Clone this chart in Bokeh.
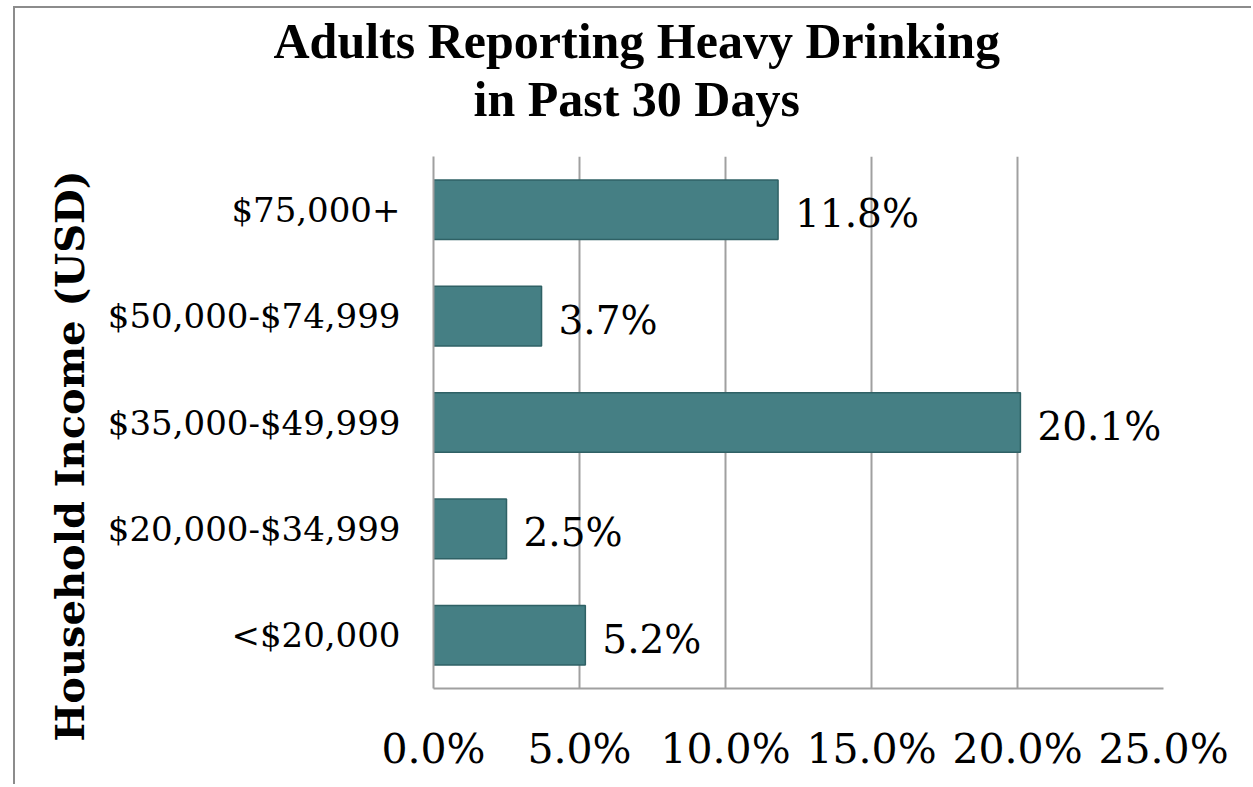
from bokeh.plotting import figure
from bokeh.models import (ColumnDataSource, FactorRange, Range1d, FixedTicker,
                          PrintfTickFormatter, Title)
from bokeh.core.properties import value
from bokeh.embed import file_html
from bokeh.resources import INLINE

# ---- data ----
categories = ["<$20,000", "$20,000-$34,999", "$35,000-$49,999",
              "$50,000-$74,999", "$75,000+"]
percent = [5.2, 2.5, 20.1, 3.7, 11.8]
value_labels = ["5.2%", "2.5%", "20.1%", "3.7%", "11.8%"]
x_ticks = [0, 5, 10, 15, 20, 25]
title_lines = ["Adults Reporting Heavy Drinking", "in Past 30 Days"]
y_title = "Household Income  (USD)"

SERIF = "DejaVu Serif"
BAR = "#457f84"
BAR_EDGE = "#2f6165"
GRID = "#a0a0a0"

src = ColumnDataSource(dict(cat=categories, pct=percent, lab=value_labels))

p = figure(width=1238, height=778, output_backend="svg", toolbar_location=None,
           y_range=FactorRange(*categories, range_padding=0),
           x_range=Range1d(0, 25),
           min_border_left=418, min_border_right=90,
           min_border_top=148, min_border_bottom=98)
p.title = None
p.outline_line_color = None
p.background_fill_color = "white"
p.border_fill_color = "white"
p.styles = {"margin-left": "13px", "margin-top": "6px",
            "border-left": "2px solid #8c8c8c", "border-top": "2px solid #8c8c8c"}

p.hbar(y="cat", right="pct", left=0, height=0.56, source=src,
       fill_color=BAR, line_color=BAR_EDGE, line_width=1.5)

p.text(x="pct", y="cat", text="lab", source=src, x_offset=17, y_offset=4,
       text_baseline="middle", text_align="left",
       text_font=value(SERIF), text_font_size="39px", text_color="black")

# bottom x axis
xa = p.below[0]
xa.ticker = FixedTicker(ticks=x_ticks)
xa.formatter = PrintfTickFormatter(format="%.1f%%")
xa.major_tick_line_color = None
xa.minor_tick_line_color = None
xa.axis_line_color = GRID
xa.axis_line_width = 2
xa.major_label_text_font = SERIF
xa.major_label_text_font_size = "41px"
xa.major_label_text_color = "black"
xa.major_label_standoff = 30

# y axis
ya = p.left[0]
ya.major_tick_line_color = None
ya.minor_tick_line_color = None
ya.axis_line_color = GRID
ya.axis_line_width = 2
ya.major_label_text_font = SERIF
ya.major_label_text_font_size = "34px"
ya.major_label_text_color = "black"
ya.major_label_standoff = 27

p.xgrid.grid_line_color = GRID
p.xgrid.grid_line_width = 2
p.ygrid.grid_line_color = None

# blank spacer panel above the frame (gap between title and plot)
p.add_layout(Title(text=" ", text_font_size="1px", text_color="white",
                   standoff=27), "above")

# chart title, two lines (inner line first)
p.add_layout(Title(text=title_lines[1], align="left", offset=40,
                   text_font="Liberation Serif", text_font_style="bold",
                   text_font_size="50px", text_color="black", standoff=0), "above")
p.add_layout(Title(text=title_lines[0], align="left", offset=-160,
                   text_font="Liberation Serif", text_font_style="bold",
                   text_font_size="50px", text_color="black", standoff=0), "above")

# y-axis title
p.add_layout(Title(text=y_title, align="left", offset=-53,
                   text_font=SERIF, text_font_style="bold",
                   text_font_size="40px", text_color="black", standoff=24), "left")

open("out.html", "w").write(file_html(p, INLINE))
